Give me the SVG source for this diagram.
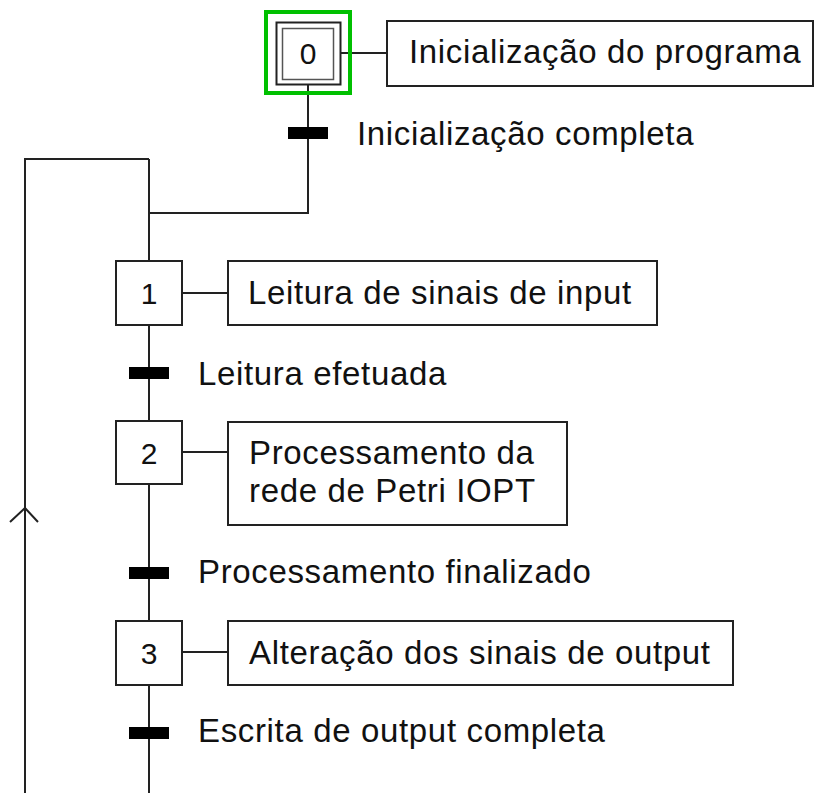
<svg xmlns="http://www.w3.org/2000/svg" width="816" height="793" viewBox="0 0 816 793">
<style>
.ln{stroke:#222;stroke-width:2;fill:none}
.box{stroke:#222;stroke-width:2;fill:#fff}
.bar{fill:#000}
.t{font-family:"Liberation Sans",Arial,sans-serif;font-size:33px;letter-spacing:0.65px;fill:#111}
.n{font-family:"Liberation Sans",Arial,sans-serif;font-size:30px;fill:#111;text-anchor:middle}
</style>
<rect width="816" height="793" fill="#fff"/>
<g id="connectors">
<path class="ln" d="M341 53H387"/>
<path class="ln" d="M308 85V213H149"/>
<path class="ln" d="M149 159V261"/>
<path class="ln" d="M149 159H25V793"/>
<path class="ln" d="M10 522L25 508L38 522" stroke-width="1.5"/>
<path class="ln" d="M182 293H228"/>
<path class="ln" d="M149 325V421"/>
<path class="ln" d="M182 452H228"/>
<path class="ln" d="M149 484V621"/>
<path class="ln" d="M182 652H228"/>
<path class="ln" d="M149 685V793"/>
</g>
<g id="step0">
<rect class="box" x="276.5" y="22.5" width="64" height="62"/>
<rect x="282.5" y="28.5" width="51" height="51" fill="none" stroke="#555" stroke-width="1.5"/>
<rect x="266" y="12" width="84" height="81" fill="none" stroke="#00c000" stroke-width="4"/>
<text class="n" x="308" y="64">0</text>
</g>
<g id="action0">
<rect class="box" x="387" y="21" width="426" height="65"/>
<text class="t" x="409" y="63">Inicialização do programa</text>
</g>
<g id="transition0">
<rect class="bar" x="288" y="127" width="40" height="12"/>
<text class="t" x="357" y="145">Inicialização completa</text>
</g>
<g id="step1">
<rect class="box" x="116" y="261" width="66" height="64"/>
<text class="n" x="149" y="304">1</text>
</g>
<g id="action1">
<rect class="box" x="228" y="261" width="429" height="64"/>
<text class="t" x="248" y="304">Leitura de sinais de input</text>
</g>
<g id="transition1">
<rect class="bar" x="129" y="367" width="40" height="12"/>
<text class="t" x="198" y="385">Leitura efetuada</text>
</g>
<g id="step2">
<rect class="box" x="116" y="421" width="66" height="63"/>
<text class="n" x="149" y="464">2</text>
</g>
<g id="action2">
<rect class="box" x="228" y="422" width="339" height="103"/>
<text class="t" x="249" y="464">Processamento da</text>
<text class="t" x="249" y="502">rede de Petri IOPT</text>
</g>
<g id="transition2">
<rect class="bar" x="129" y="567" width="40" height="12"/>
<text class="t" x="198" y="583">Processamento finalizado</text>
</g>
<g id="step3">
<rect class="box" x="116" y="621" width="66" height="64"/>
<text class="n" x="149" y="664">3</text>
</g>
<g id="action3">
<rect class="box" x="228" y="621" width="505" height="64"/>
<text class="t" x="249" y="664">Alteração dos sinais de output</text>
</g>
<g id="transition3">
<rect class="bar" x="129" y="727" width="40" height="12"/>
<text class="t" x="198" y="742">Escrita de output completa</text>
</g>
</svg>
